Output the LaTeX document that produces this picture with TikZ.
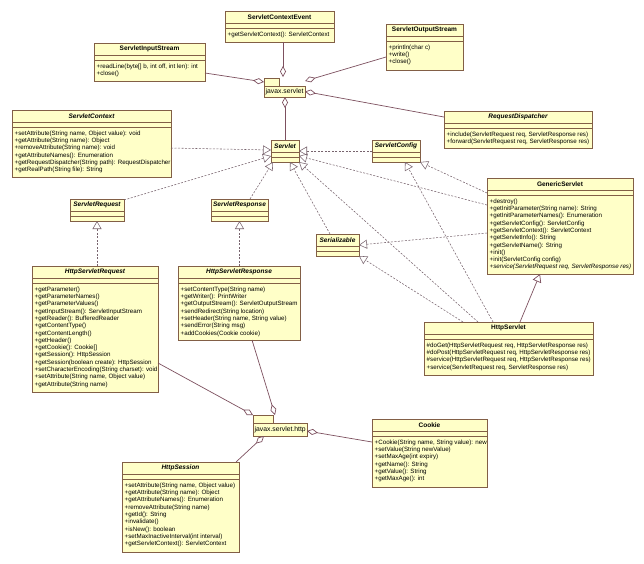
\documentclass[tikz,border=0pt]{standalone}
\usepackage{fontspec}
\setmainfont{Liberation Sans}
\usetikzlibrary{arrows.meta,calc}
\definecolor{clsfill}{RGB}{255,255,200}
\definecolor{clsedge}{RGB}{130,95,70}
\definecolor{conn}{RGB}{125,80,95}
\definecolor{dconn}{RGB}{120,100,110}
\tikzset{
 clsbox/.style={draw=clsedge, fill=clsfill, line width=0.8pt, anchor=north west, inner sep=0pt, outer sep=0pt},
 clsrule/.style={draw=clsedge, line width=0.7pt},
 clstitle/.style={inner sep=0pt, font=\fontsize{6.5}{7.5}\selectfont\bfseries},
 clsmeth/.style={inner sep=0pt, anchor=north west, align=left, font=\fontsize{6.2}{7.3}\selectfont},
 pkgbody/.style={draw=clsedge, fill=clsfill, line width=0.8pt, anchor=north west, inner sep=0pt, outer sep=0pt},
 pkgtext/.style={inner sep=0pt, anchor=west, font=\fontsize{6.8}{8}\selectfont},
 agg/.style={draw=conn, line width=0.7pt, -{Diamond[open, length=11pt, width=6pt]}},
 real/.style={draw=dconn, line width=0.55pt, dash pattern=on 2pt off 1.5pt, -{Triangle[open, length=8pt, width=9pt]}},
 gen/.style={draw=conn, line width=0.7pt, -{Triangle[open, length=8pt, width=9pt]}},
}
\newcommand{\UmlCls}[7]{%
  \node[clsbox, minimum width={(#4-#2)*1pt}, minimum height={(#5-#3)*1pt}] (#1) at (#2,#3) {};
  \draw[clsrule] ($(#1.north west)+(0,12)$) -- ($(#1.north east)+(0,12)$);
  \draw[clsrule] ($(#1.north west)+(0,17)$) -- ($(#1.north east)+(0,17)$);
  \node[clstitle] at ($(#1.north)+(0,6)$) {#6};
  \node[clsmeth] at ($(#1.north west)+(2.5,20.5)$) {#7};
}
\newcommand{\UmlPkg}[7]{%
  \node[pkgbody, minimum width={#4*1pt}, minimum height={#5*1pt}] (#1) at (#2,#3) {};
  \draw[clsrule, fill=clsfill] (#1.north west) rectangle ($(#1.north west)+(#6,-8)$);
  \node[pkgtext] at ($(#1.west)+(1.5,0)$) {#7};
}
\begin{document}
\begin{tikzpicture}[x=1pt, y=-1pt]
\fill[white] (0,0) rectangle (644,563);
\useasboundingbox (0,0) rectangle (644,563);

\UmlCls{sce}{225}{11}{334}{42}{ServletContextEvent}{+getServletContext(): ServletContext}
\UmlCls{sis}{94}{43}{205}{81}{ServletInputStream}{+readLine(byte[] b, int off, int len): int\\+close()}
\UmlCls{sos}{386}{24}{463}{70}{ServletOutputStream}{+println(char c)\\+write()\\+close()}
\UmlPkg{jsv}{264}{86}{41}{11}{15}{javax.servlet}
\UmlCls{sctx}{12}{110}{171}{177}{\itshape ServletContext}{+setAttribute(String name, Object value): void\\+getAttribute(String name): Object\\+removeAttribute(String name): void\\+getAttributeNames(): Enumeration\\+getRequestDispatcher(String path): RequestDispatcher\\+getRealPath(String file): String}
\UmlCls{rd}{444}{111}{592}{148}{\itshape RequestDispatcher}{+include(ServletRequest req, ServletResponse res)\\+forward(ServletRequest req, ServletResponse res)}
\UmlCls{servlet}{271}{140}{299}{162}{\itshape Servlet}{}
\UmlCls{scfg}{372}{140}{420}{162}{\itshape ServletConfig}{}
\UmlCls{gs}{487}{178}{633}{274}{GenericServlet}{+destroy()\\+getInitParameter(String name): String\\+getInitParameterNames(): Enumeration\\+getServletConfig(): ServletConfig\\+getServletContext(): ServletContext\\+getServletInfo(): String\\+getServletName(): String\\+init()\\+init(ServletConfig config)\\{\itshape +service(ServletRequest req, ServletResponse res)}}
\UmlCls{ser}{316}{234}{359}{256}{\itshape Serializable}{}
\UmlCls{sreq}{70}{199}{124}{221}{\itshape ServletRequest}{}
\UmlCls{sresp}{211}{199}{268}{221}{\itshape ServletResponse}{}
\UmlCls{hreq}{32}{266}{158}{392}{\itshape HttpServletRequest}{+getParameter()\\+getParameterNames()\\+getParameterValues()\\+getInputStream(): ServletInputStream\\+getReader(): BufferedReader\\+getContentType()\\+getContentLength()\\+getHeader()\\+getCookie(): Cookie[]\\+getSession(): HttpSession\\+getSession(boolean create): HttpSession\\+setCharacterEncoding(String charset): void\\+setAttribute(String name, Object value)\\+getAttribute(String name)}
\UmlCls{hresp}{178}{266}{300}{340}{\itshape HttpServletResponse}{+setContentType(String name)\\+getWriter(): PrintWriter\\+getOutputStream(): ServletOutputStream\\+sendRedirect(String location)\\+setHeader(String name, String value)\\+sendError(String msg)\\+addCookies(Cookie cookie)}
\UmlCls{hs}{424}{322}{593}{375}{HttpServlet}{\#doGet(HttpServletRequest req, HttpServletResponse res)\\\#doPost(HttpServletRequest req, HttpServletResponse res)\\\#service(HttpServletRequest req, HttpServletResponse res)\\+service(ServletRequest req, ServletResponse res)}
\UmlPkg{jsh}{253}{423}{54}{13}{20}{javax.servlet.http}
\UmlCls{cookie}{372}{419}{487}{487}{Cookie}{+Cookie(String name, String value): new\\+setValue(String newValue)\\+setMaxAge(int expiry)\\+getName(): String\\+getValue(): String\\+getMaxAge(): int}
\UmlCls{hsess}{122}{462}{239}{552}{\itshape HttpSession}{+setAttribute(String name, Object value)\\+getAttribute(String name): Object\\+getAttributeNames(): Enumeration\\+removeAttribute(String name)\\+getId(): String\\+invalidate()\\+isNew(): boolean\\+setMaxInactiveInterval(int interval)\\+getServletContext(): ServletContext}

% aggregations
\draw[agg] ($(sce.south)+(3.5,0)$) -- ($(jsv.north)+(-1.5,-9)$);
\draw[agg] ($(sis.south east)+(0,-8)$) -- ($(jsv.west)+(0,-9.5)$);
\draw[agg] ($(sos.west)+(0,10)$) -- ($(jsv.east)+(0,-10.5)$);
\draw[agg] ($(rd.north west)+(0,6)$) -- (jsv.east);
\draw[agg] (servlet.north) -- (servlet.north |- jsv.south);
\draw[agg] ($(hreq.east)+(0,34)$) -- ($(jsh.north west)+(0,-8)$);
\draw[agg] ($(hresp.south)+(13,0)$) -- ($(jsh.north)+(-5,-8)$);
\draw[agg] ($(cookie.west)+(0,-11)$) -- ($(jsh.east)+(0,1.5)$);
\draw[agg] ($(hsess.north east)+(-3,0)$) -- ($(jsh.south)+(-16,0)$);

% realizations
\draw[real] ($(sctx.east)+(0,4.5)$) -- ($(servlet.west)+(0,-1)$);
\draw[real] ($(sreq.north east)+(0,1)$) -- ($(servlet.west)+(0,5)$);
\draw[real] ($(sresp.north)+(10.5,0)$) -- ($(servlet.south west)+(2,0)$);
\draw[real] ($(ser.north)+(-7.5,0)$) -- ($(servlet.south)+(5,0)$);
\draw[real] ($(hs.north)+(-30.5,0)$) -- (servlet.south east);
\draw[real] (scfg.west) -- (servlet.east);
\draw[real] ($(gs.west)+(0,-21)$) -- ($(servlet.east)+(0,5)$);
\draw[real] ($(gs.west)+(0,-33)$) -- (scfg.south east);
\draw[real] ($(hs.north)+(-15.5,0)$) -- ($(scfg.south)+(9,0)$);
\draw[real] ($(gs.west)+(0,7)$) -- (ser.east);
\draw[real] ($(hs.north)+(-45.5,0)$) -- (ser.south east);
\draw[real] (sreq.south |- hreq.north) -- (sreq.south);
\draw[real] (sresp.south |- hresp.north) -- (sresp.south);
% generalization
\draw[gen] ($(hs.north)+(11.5,0)$) -- ($(gs.south)+(-20,0)$);
\end{tikzpicture}
\end{document}
